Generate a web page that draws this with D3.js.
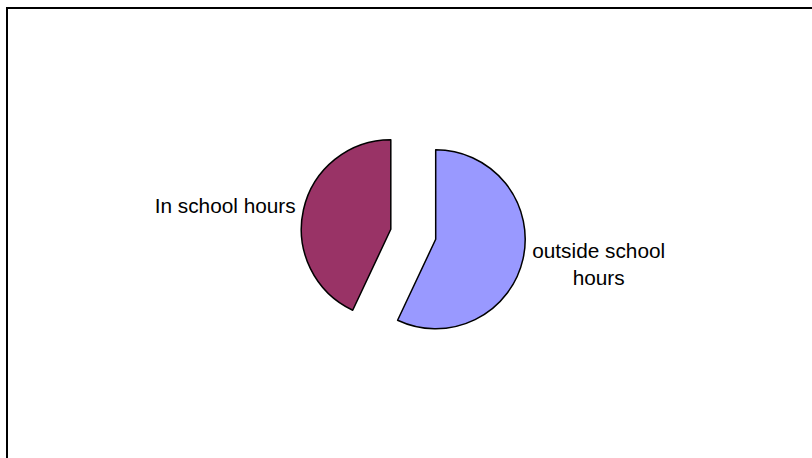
<!DOCTYPE html>
<html>
<head>
<meta charset="utf-8">
<script src="https://d3js.org/d3.v7.min.js"></script>
<style>
  body { margin: 0; background: #fff; }
  text { font-family: "Liberation Sans", Arial, sans-serif; font-size: 20.8px; fill: #000; }
</style>
</head>
<body>
<svg id="chart" width="812" height="458"></svg>
<script>
    // share of use, per cent
    const categories = ["outside school hours", "In school hours"];
    const shares = [57, 43];
    const colours = ["#9999FF", "#993366"];
    const exploded = [0, 46];

    const svg = d3.select("#chart");

    // chart frame (right and bottom edges fall outside the window)
    svg.append("rect")
        .attr("x", 7).attr("y", 8)
        .attr("width", 830).attr("height", 480)
        .attr("fill", "none")
        .attr("stroke", "#000")
        .attr("stroke-width", 2);

    const cx = 435.7, cy = 239.3, r = 89.5;

    const pie = d3.pie().sort(null).value(d => d.v);
    const arcs = pie(categories.map((c, i) => ({ name: c, v: shares[i], i: i })));
    const arc = d3.arc().innerRadius(0).outerRadius(r);

    const g = svg.append("g").attr("transform", `translate(${cx},${cy})`);

    const offset = d => {
        const mid = (d.startAngle + d.endAngle) / 2;
        const k = exploded[d.data.i];
        return [Math.sin(mid) * k, -Math.cos(mid) * k];
    };

    g.selectAll("path")
        .data(arcs)
        .join("path")
        .attr("transform", d => `translate(${offset(d)})`)
        .attr("d", arc)
        .attr("fill", d => colours[d.data.i])
        .attr("stroke", "#000")
        .attr("stroke-width", 1.5)
        .attr("stroke-linejoin", "round");

    // labels sit just outside each slice
    const labelPos = [
        { x: cx + 163, y: cy + 19, anchor: "middle", lines: ["outside school", "hours"] },
        { x: cx - 140, y: cy - 26, anchor: "end", lines: ["In school hours"] }
    ];

    arcs.forEach(d => {
        const p = labelPos[d.data.i];
        svg.append("text")
            .attr("text-anchor", p.anchor)
            .selectAll("tspan")
            .data(p.lines)
            .join("tspan")
            .attr("x", p.x)
            .attr("y", (t, j) => p.y + j * 26.5)
            .text(t => t);
    });
</script>
</body>
</html>
